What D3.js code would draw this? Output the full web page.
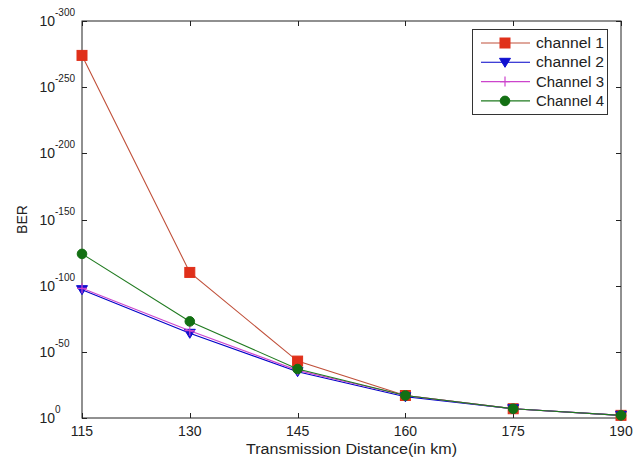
<!DOCTYPE html>
<html><head><meta charset="utf-8">
<script src="https://cdn.jsdelivr.net/npm/d3@7"></script>
<style>body{margin:0;background:#fff}svg{display:block}text{font-family:"Liberation Sans",Arial,sans-serif;fill:#222}</style>
</head><body><svg id="c" width="644" height="461"></svg>
<script>
const distances = [115, 130, 145, 160, 175, 190];
const xTicks = [115, 130, 145, 160, 175, 190];
const yTicks = [0, -50, -100, -150, -200, -250, -300];
const seriesNames = ["channel 1", "channel 2", "Channel 3", "Channel 4"];
// log10(BER)
const ch1 = [-274, -110, -43, -17, -7, -2];
const ch2 = [-97, -64, -35, -16, -7, -2];
const ch3 = [-98, -66, -36, -17, -7, -2];
const ch4 = [-124, -73, -37, -17, -7, -2];

const styles = [
  {line:"#c0503a", fill:"#e0301a", marker:"square"},
  {line:"#0000c8", fill:"#1010d0", marker:"tri"},
  {line:"#cc44cc", fill:"#cc44cc", marker:"plus"},
  {line:"#1f7a1f", fill:"#137013", marker:"circle"}
];
const data = [ch1, ch2, ch3, ch4];

const L=82, R=621, T=21, B=418;
const svg = d3.select("#c");
const x = d3.scaleLinear().domain([115,190]).range([L,R]);
const y = d3.scaleLinear().domain([0,-300]).range([B,T]);

svg.append("rect").attr("x",L).attr("y",T).attr("width",R-L).attr("height",B-T)
  .attr("fill","none").attr("stroke","#222").attr("stroke-width",1);

const tl=5;
const g = svg.append("g").attr("stroke","#222").attr("stroke-width",1);
xTicks.forEach(v=>{
  const px=Math.round(x(v))+0.5;
  g.append("line").attr("x1",px).attr("x2",px).attr("y1",B).attr("y2",B-tl);
  g.append("line").attr("x1",px).attr("x2",px).attr("y1",T).attr("y2",T+tl);
});
yTicks.forEach(v=>{
  const py=Math.round(y(v))+0.5;
  g.append("line").attr("x1",L).attr("x2",L+tl).attr("y1",py).attr("y2",py);
  g.append("line").attr("x1",R).attr("x2",R-tl).attr("y1",py).attr("y2",py);
});

xTicks.forEach(v=>{
  svg.append("text").attr("x",x(v)).attr("y",B+18).attr("text-anchor","middle")
    .attr("font-size",14).text(v);
});
yTicks.forEach(v=>{
  svg.append("text").attr("x",55).attr("y",y(v)+5).attr("text-anchor","end")
    .attr("font-size",14).text("10");
  svg.append("text").attr("x",55).attr("y",y(v)-5).attr("text-anchor","start")
    .attr("font-size",10).text(v===0?"0":String(v));
});
svg.append("text").attr("x",(L+R)/2).attr("y",454).attr("text-anchor","middle")
  .attr("font-size",14).attr("textLength",211).attr("lengthAdjust","spacingAndGlyphs")
  .text("Transmission Distance(in km)");
svg.append("text").attr("transform",`translate(27,${(T+B)/2}) rotate(-90)`)
  .attr("text-anchor","middle").attr("font-size",14).text("BER");

function marker(sel, type, cx, cy, st){
  if(type==="square"){
    sel.append("rect").attr("x",cx-5).attr("y",cy-5).attr("width",10).attr("height",10)
      .attr("fill",st.fill).attr("stroke",st.fill);
  } else if(type==="tri"){
    sel.append("path").attr("d",`M${cx-5.5},${cy-4}L${cx+5.5},${cy-4}L${cx},${cy+5}Z`)
      .attr("fill",st.fill).attr("stroke",st.fill);
  } else if(type==="plus"){
    sel.append("path").attr("d",`M${cx-5},${cy}L${cx+5},${cy}M${cx},${cy-5}L${cx},${cy+5}`)
      .attr("stroke",st.fill).attr("stroke-width",1.2);
  } else {
    sel.append("circle").attr("cx",cx).attr("cy",cy).attr("r",4.8)
      .attr("fill",st.fill).attr("stroke",st.fill);
  }
}

const line = d3.line().x((d,i)=>x(distances[i])).y(d=>y(d));
data.forEach((s,k)=>{
  const st=styles[k];
  const gg=svg.append("g");
  gg.append("path").attr("d",line(s)).attr("fill","none").attr("stroke",st.line).attr("stroke-width",1.1);
  s.forEach((d,i)=>marker(gg, st.marker, x(distances[i]), y(d), st));
});

const lg = svg.append("g");
lg.append("rect").attr("x",472.5).attr("y",29.5).attr("width",135).attr("height",85)
  .attr("fill","#fff").attr("stroke","#333").attr("stroke-width",1);
seriesNames.forEach((n,k)=>{
  const ly = 43 + k*19.3;
  const st=styles[k];
  lg.append("line").attr("x1",481).attr("x2",530).attr("y1",ly).attr("y2",ly)
    .attr("stroke",st.line).attr("stroke-width",1.1);
  marker(lg, st.marker, 505, ly, st);
  lg.append("text").attr("x",536).attr("y",ly+5).attr("font-size",14)
    .attr("textLength",68).attr("lengthAdjust","spacingAndGlyphs").text(n);
});
</script></body></html>
